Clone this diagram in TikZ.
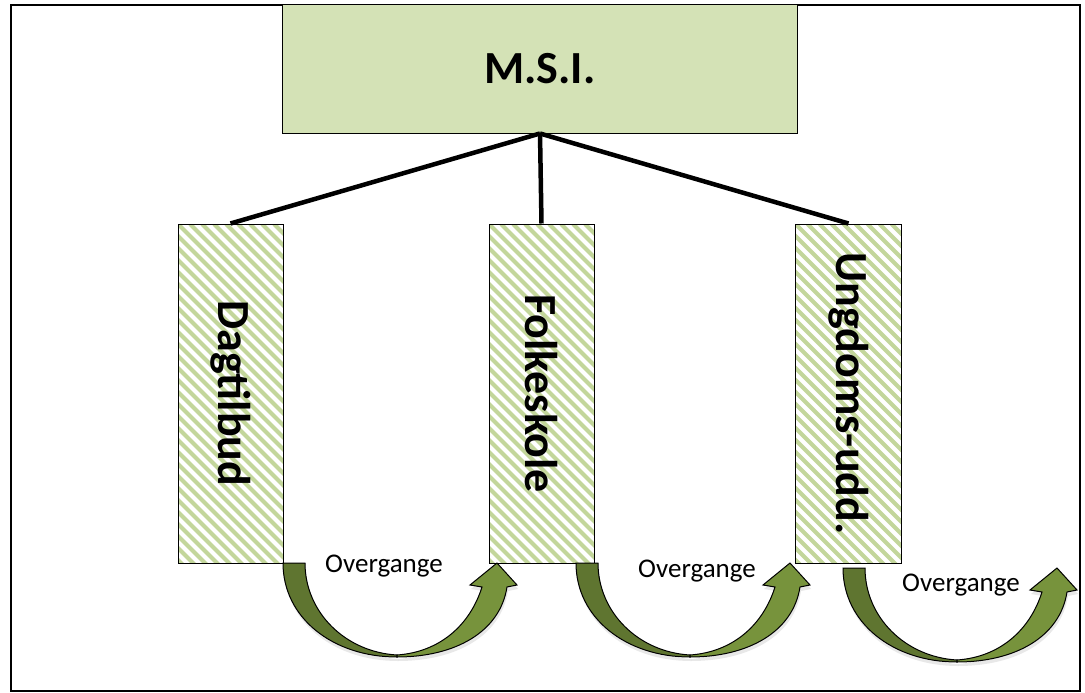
\documentclass[tikz,border=0pt]{standalone}
\usepackage{fontspec}
\setmainfont{Carlito}
\usetikzlibrary{shadows}
\definecolor{stripegreen}{RGB}{195,214,155}
\definecolor{checkgreen}{RGB}{212,226,182}
\definecolor{arrowdark}{RGB}{95,117,48}
\definecolor{arrowlight}{RGB}{119,147,60}
\tikzset{
  stripebox/.style={draw=black, line width=1pt, minimum width=105pt, minimum height=339pt, inner sep=0pt,
    path picture={\foreach \i in {-30,...,10}{\draw[stripegreen,line width=4.2pt] ([xshift=\i*12pt]path picture bounding box.north west) -- ++(400,400);}}},
  boxlabel/.style={rotate=-90, font=\fontsize{46}{55}\selectfont\bfseries, inner sep=0pt},
  msibox/.style={draw=black, line width=1pt, fill=checkgreen, minimum width=515pt, minimum height=128pt, inner sep=0pt,
    font=\fontsize{46}{55}\selectfont\bfseries},
  conn/.style={line width=4.5pt, black},
  ovlabel/.style={font=\fontsize{27}{32}\selectfont, inner sep=0pt, anchor=base},
  arrowpart/.style={draw=black, line width=1pt, line join=miter,
    drop shadow={opacity=0.18, shadow xshift=1pt, shadow yshift=-4pt}},
}
\newcommand\ovarrow[2]{%
  \begin{scope}[shift={(#1,#2)}]
    \path[arrowpart, fill=arrowdark] (283,563) .. controls (283,618) and (333,657) .. (397,657)
      -- (397,655) .. controls (345,652) and (305,612) .. (305,563) -- cycle;
    \path[arrowpart, fill=arrowlight] (397,657) .. controls (455,657) and (500,632) .. (507,587)
      -- (517,585) -- (497,563) -- (470,585) -- (482,587)
      .. controls (470,625) and (440,652) .. (397,655) -- cycle;
  \end{scope}}
\begin{document}
\begin{tikzpicture}[x=1pt, y=-1pt]
  \useasboundingbox (0,0) rectangle (1085,693);
  \fill[white] (0,0) rectangle (1085,693);
  \draw[line width=1.6pt] (11,5) rectangle (1080,691);

  \node[msibox] (msi) at (540,69) {M.S.I.};

  \node[stripebox] (dag) at (230.5,393.5) {};
  \node[stripebox] (folk) at (541.5,393.5) {};
  \node[stripebox, minimum width=106pt] (ung) at (848.5,393.5) {};

  \node[boxlabel] (dagtxt) at (dag.center) {Dagtilbud};
  \node[boxlabel] (folktxt) at (folk.center) {Folkeskole};
  \node[boxlabel] (ungtxt) at (ung.center) {Ungdoms-udd.};

  \draw[conn] (msi.south) -- (dag.north);
  \draw[conn] (msi.south) -- (folk.north);
  \draw[conn] (msi.south) -- (ung.north);

  \ovarrow{0}{0}
  \ovarrow{293}{0}
  \ovarrow{560}{5}

  \node[ovlabel] (ov1) at (384,572) {Overgange};
  \node[ovlabel] (ov2) at (697,577) {Overgange};
  \node[ovlabel] (ov3) at (961,591) {Overgange};
\end{tikzpicture}
\end{document}
